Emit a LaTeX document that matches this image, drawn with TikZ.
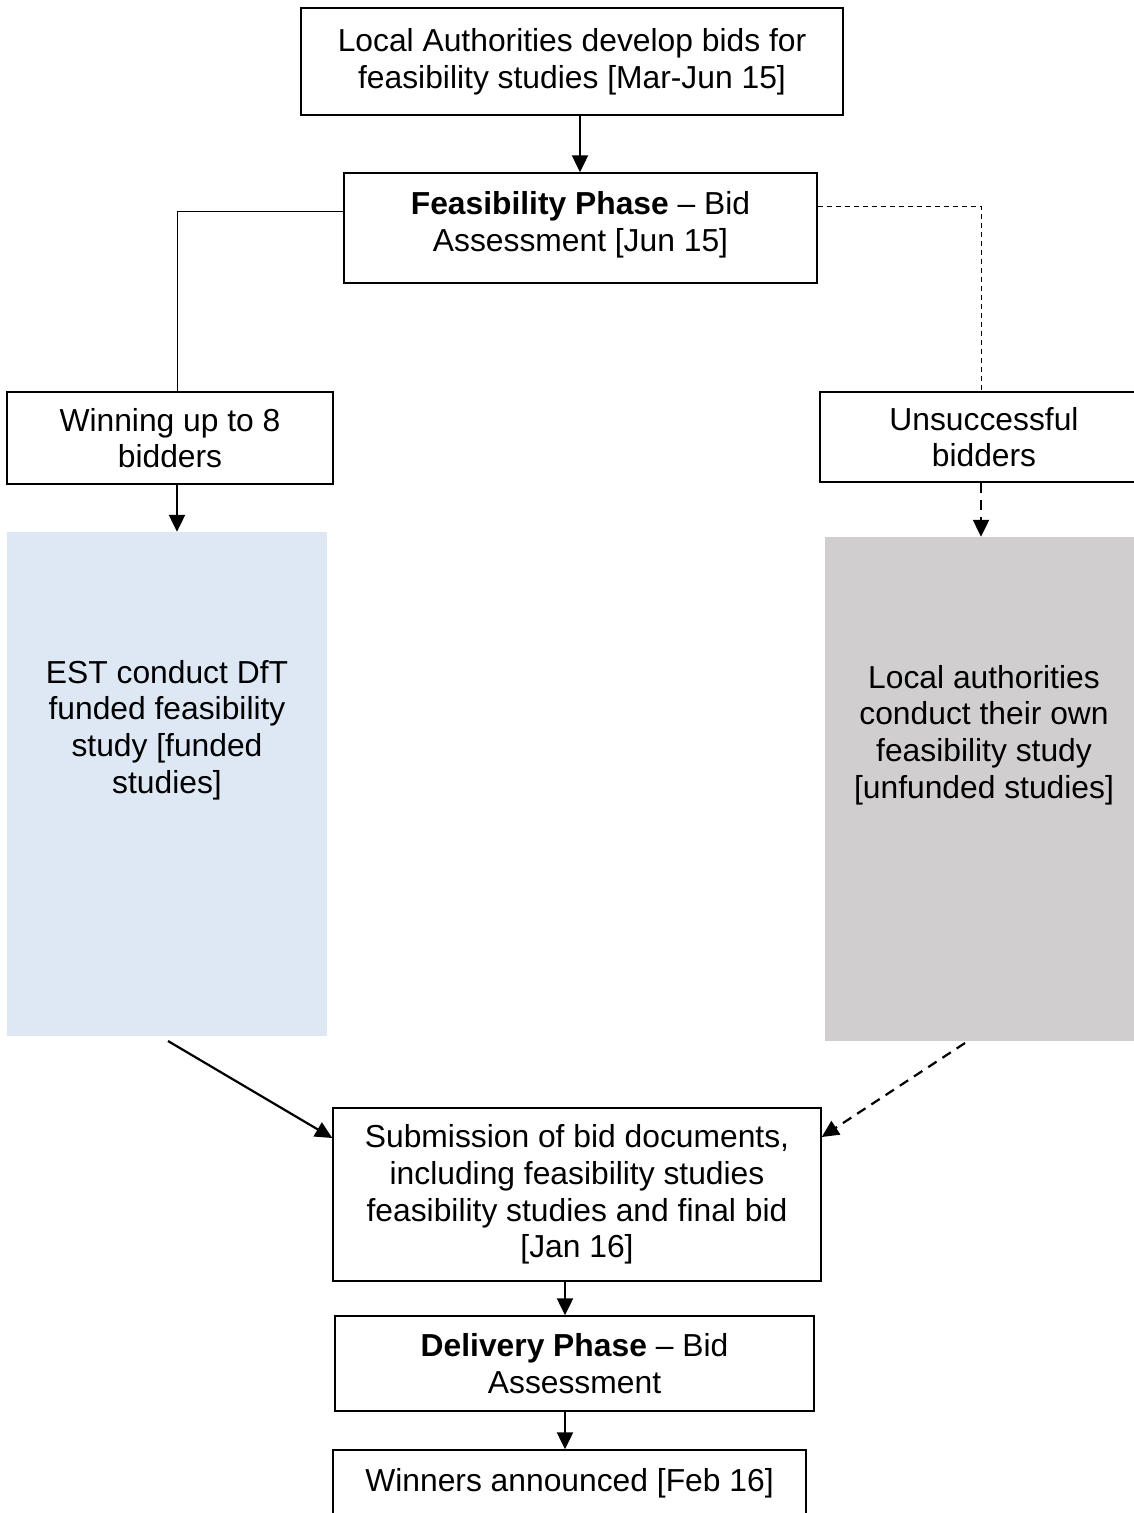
\documentclass[tikz,border=0pt]{standalone}
\usepackage{fontspec}
\setmainfont{Liberation Sans}
\usetikzlibrary{arrows.meta}
\begin{document}
\begin{tikzpicture}[x=1pt,y=-1pt,
  every node/.style={font=\fontsize{31.8}{36.6}\selectfont, align=center, inner sep=0pt},
  box/.style={draw=black, line width=1.4pt, fill=white},
  arr/.style={line width=2.2pt, -{Triangle[length=17pt,width=16pt]}},
  darr/.style={line width=2.2pt, dash pattern=on 10pt off 7pt, -{Triangle[length=17pt,width=16pt]}},
  thin/.style={line width=0.9pt},
  thindash/.style={line width=0.9pt, dash pattern=on 5pt off 4pt}]
\useasboundingbox (0,0) rectangle (1134,1513);
\fill[white] (0,0) rectangle (1134,1513);
\begin{scope}
\clip (0,0) rectangle (1134,1513);
\node[box, minimum width=542, minimum height=107] (top) at (572,61.5)
  {Local Authorities develop bids for\\feasibility studies [Mar-Jun 15]};
\node[box, minimum width=473, minimum height=110,
  label={[yshift=3pt,align=center]center:\textbf{Feasibility Phase} -- Bid\\Assessment [Jun 15]}] (feas) at (580.5,228) {};
\node[box, minimum width=326, minimum height=92] (win) at (170,438)
  {Winning up to 8\\bidders};
\node[box, minimum width=328, minimum height=90] (uns) at (984,437)
  {Unsuccessful\\bidders};
\node[fill={rgb,255:red,221;green,232;blue,244}, minimum width=320, minimum height=504,
  label={[yshift=54pt,align=center]center:EST conduct DfT\\funded feasibility\\study [funded\\studies]}] (est) at (167,784) {};
\node[fill={rgb,255:red,208;green,206;blue,207}, minimum width=318, minimum height=504,
  label={[yshift=54pt,align=center]center:Local authorities\\conduct their own\\feasibility study\\{[unfunded studies]}}] (la) at (984,789) {};
\node[box, minimum width=488, minimum height=173] (sub) at (577,1194.5)
  {Submission of bid documents,\\including feasibility studies\\feasibility studies and final bid\\{[Jan 16]}};
\node[box, minimum width=479, minimum height=95] (del) at (574.5,1363.5)
  {\textbf{Delivery Phase} -- Bid\\Assessment};
\node[box, minimum width=473, minimum height=72,
  label={[yshift=3pt]center:Winners announced [Feb 16]}] (wins) at (569.5,1486) {};
\end{scope}
\draw[arr] (top.south -| 580,0) -- (feas.north -| 580,0);
\draw[thin] (feas.west |- 0,211) -- (177,211) -- (win.north -| 177,0);
\draw[thindash] (feas.east |- 0,206) -- (981,206) -- (uns.north -| 981,0);
\draw[arr] (win.south -| 177,0) -- (est.north -| 177,0);
\draw[darr] (uns.south -| 981,0) -- (la.north -| 981,0);
\coordinate (estout) at (168,1041);
\coordinate (laout) at (965,1043);
\draw[arr] (estout) -- (sub.west |- 0,1138);
\draw[darr] (laout) -- (sub.east |- 0,1137);
\draw[arr] (sub.south -| 565,0) -- (del.north -| 565,0);
\draw[arr] (del.south -| 565,0) -- (wins.north -| 565,0);
\end{tikzpicture}
\end{document}
